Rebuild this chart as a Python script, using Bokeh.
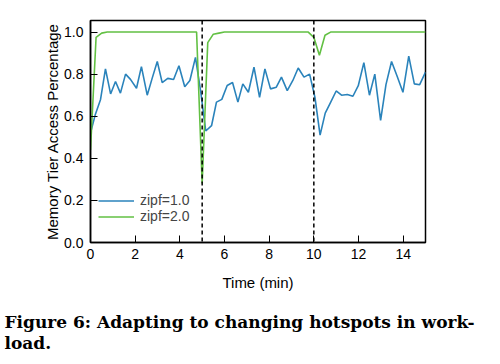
from bokeh.plotting import figure
from bokeh.models import Range1d, Span, Title, Legend, LegendItem, FixedTicker
from bokeh.embed import file_html
from bokeh.resources import INLINE

# zipf=1.0 series (time in minutes, memory tier access fraction)
t_zipf1 = [0.00, 0.22, 0.45, 0.67, 0.90, 1.12, 1.34, 1.57, 1.79, 2.06, 2.28, 2.54,
           2.76, 2.99, 3.21, 3.46, 3.72, 3.96, 4.22, 4.45, 4.70, 4.93, 5.16, 5.42,
           5.64, 5.88, 6.12, 6.36, 6.60, 6.82, 7.07, 7.32, 7.57, 7.81, 8.06, 8.32,
           8.55, 8.81, 9.06, 9.30, 9.56, 9.81, 10.05, 10.28, 10.51, 10.74, 11.00,
           11.24, 11.50, 11.75, 11.99, 12.24, 12.49, 12.73, 12.99, 13.23, 13.48,
           13.73, 13.99, 14.25, 14.50, 14.74, 15.00]
v_zipf1 = [0.52, 0.61, 0.68, 0.825, 0.706, 0.765, 0.71, 0.80, 0.775, 0.733, 0.836, 0.70,
           0.78, 0.86, 0.76, 0.78, 0.775, 0.84, 0.74, 0.77, 0.88, 0.72, 0.53, 0.555,
           0.667, 0.68, 0.746, 0.76, 0.667, 0.754, 0.714, 0.833, 0.69, 0.825, 0.73, 0.738,
           0.786, 0.722, 0.77, 0.829, 0.786, 0.80, 0.69, 0.51, 0.615, 0.664, 0.72,
           0.70, 0.703, 0.695, 0.745, 0.855, 0.70, 0.80, 0.58, 0.75, 0.86,
           0.79, 0.714, 0.886, 0.754, 0.75, 0.81]

# zipf=2.0 series
t_zipf2 = [0.00, 0.25, 0.50, 0.75, 1.00, 1.50, 2.00, 2.50, 3.00, 3.50, 4.00, 4.50, 4.75,
           5.00, 5.25, 5.50, 5.75, 6.00, 7.00, 8.00, 9.00, 9.50, 9.75, 10.00, 10.25,
           10.50, 10.75, 11.00, 12.00, 13.00, 14.00, 15.00]
v_zipf2 = [0.44, 0.975, 0.995, 1.0, 1.0, 1.0, 1.0, 1.0, 1.0, 1.0, 1.0, 1.0, 1.0,
           0.28, 0.95, 0.99, 0.995, 1.0, 1.0, 1.0, 1.0, 1.0, 1.0, 0.975, 0.89,
           0.985, 1.0, 1.0, 1.0, 1.0, 1.0, 1.0]

hotspot_changes = [5, 10]
x_ticks = [0, 2, 4, 6, 8, 10, 12, 14]
y_ticks = [0.0, 0.2, 0.4, 0.6, 0.8, 1.0]
caption_lines = ["Figure 6:  Adapting to changing hotspots in work-", "load."]

BLUE = "#2a83bb"
GREEN = "#62c043"
FONT = "Liberation Sans"

p = figure(frame_width=335, frame_height=222, output_backend="svg", toolbar_location=None,
           x_range=Range1d(0, 15), y_range=Range1d(0, 1.055),
           min_border_left=90, min_border_right=59, min_border_top=20, min_border_bottom=0)

p.xgrid.visible = False
p.ygrid.visible = False
p.outline_line_color = "black"
p.outline_line_width = 1.5
p.background_fill_color = "white"
p.border_fill_color = "white"

for ax in (p.xaxis[0], p.yaxis[0]):
    ax.axis_line_color = "black"
    ax.axis_line_width = 1.5
    ax.major_tick_in = 7
    ax.major_tick_out = 0
    ax.minor_tick_in = 0
    ax.minor_tick_out = 0
    ax.major_tick_line_color = "black"
    ax.major_label_text_font = FONT
    ax.major_label_text_font_size = "14px"
    ax.major_label_text_color = "black"
    ax.axis_label_text_font = FONT
    ax.axis_label_text_font_size = "15px"
    ax.axis_label_text_font_style = "normal"
    ax.axis_label_text_color = "black"

p.xaxis[0].ticker = FixedTicker(ticks=x_ticks)
p.yaxis[0].ticker = FixedTicker(ticks=y_ticks)
p.yaxis[0].major_label_overrides = {v: f"{v:.1f}" for v in y_ticks}
p.xaxis[0].axis_label = "Time (min)"
p.yaxis[0].axis_label = "Memory Tier Access Percentage"
p.xaxis[0].major_label_standoff = 6
p.yaxis[0].major_label_standoff = 7
p.xaxis[0].axis_label_standoff = 12
p.yaxis[0].axis_label_standoff = 0

for xc in hotspot_changes:
    p.add_layout(Span(location=xc, dimension="height", line_color="black",
                      line_width=1.5, line_dash="4 3"))

r1 = p.line(t_zipf1, v_zipf1, line_color=BLUE, line_width=1.6)
r2 = p.line(t_zipf2, v_zipf2, line_color=GREEN, line_width=1.6)

legend = Legend(items=[LegendItem(label="zipf=1.0", renderers=[r1]),
                       LegendItem(label="zipf=2.0", renderers=[r2])],
                location=(8, 18), border_line_color=None, background_fill_alpha=0,
                label_text_font=FONT, label_text_font_size="14px",
                label_text_line_height=0.8,
                label_height=13, glyph_height=13, glyph_width=36, spacing=0, padding=0,
                margin=0, label_standoff=6)
p.add_layout(legend)

caption = Title(text="\n".join(caption_lines), align="left", offset=-86, standoff=32,
                text_font="DejaVu Serif", text_font_style="bold", text_font_size="17px",
                text_line_height=1.05, text_color="black")
p.add_layout(caption, "below")

open("out.html", "w").write(file_html(p, INLINE))
